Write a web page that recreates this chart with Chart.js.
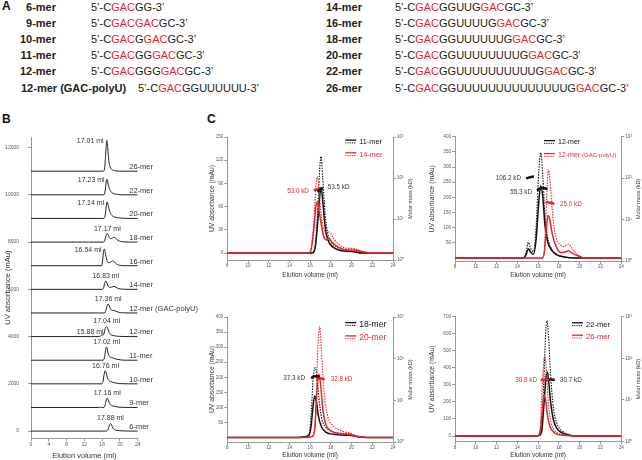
<!DOCTYPE html>
<html>
<head>
<meta charset="utf-8">
<script src="https://cdn.jsdelivr.net/npm/chart.js@4.4.0/dist/chart.umd.min.js"></script>
<style>
  body { margin: 0; background: #fff; }
  #wrap { position: relative; width: 642px; height: 460px; overflow: hidden; font-family: "Liberation Sans", Arial, sans-serif; }
  .t { position: absolute; white-space: nowrap; font-size: 11px; line-height: 12px; color: #222; }
  .b { font-weight: bold; }
  .red { color: #e8262b; }
  .letter { position: absolute; font-weight: bold; font-size: 12px; line-height: 12px; color: #111; }
  canvas { position: absolute; }
</style>
</head>
<body>
<div id="wrap">
  <div class="letter" style="left:2px;top:0px">A</div>
  <div class="letter" style="left:2px;top:113px">B</div>
  <div class="letter" style="left:207px;top:113px">C</div>
  <canvas id="chartB"></canvas>
  <canvas id="chartC1"></canvas>
  <canvas id="chartC2"></canvas>
  <canvas id="chartC3"></canvas>
  <canvas id="chartC4"></canvas>
</div>
<script>
// ---- A: oligo sequences
const leftNames = ["6-mer", "9-mer", "10-mer", "11-mer", "12-mer", "12-mer (GAC-polyU)"];
const leftSeqs = ["5’-CGACGG-3’", "5’-CGACGACGC-3’", "5’-CGACGGACGC-3’", "5’-CGACGGGACGC-3’",
  "5’-CGACGGGGACGC-3’", "5’-CGACGGUUUUUU-3’"];
const rightNames = ["14-mer", "16-mer", "18-mer", "20-mer", "22-mer", "26-mer"];
const rightSeqs = ["5’-CGACGGUUGGACGC-3’", "5’-CGACGGUUUUGGACGC-3’", "5’-CGACGGUUUUUUGGACGC-3’",
  "5’-CGACGGUUUUUUUUGGACGC-3’", "5’-CGACGGUUUUUUUUUUGGACGC-3’", "5’-CGACGGUUUUUUUUUUUUUUGGACGC-3’"];

// ---- B: stacked traces, elution volume (ml) vs UV absorbance (mAu) above each baseline
const bNames = ["6-mer", "9-mer", "10-mer", "11-mer", "12-mer", "12-mer (GAC-polyU)",
  "14-mer", "16-mer", "18-mer", "20-mer", "22-mer", "26-mer"];
const bBaselines = [0, 1000, 2000, 3000, 4000, 5000, 6000, 7000, 8000, 9000, 10000, 11000];
const bPeakMl = [17.88, 17.16, 16.76, 17.02, 17.04, 17.36, 16.83, 16.54, 17.17, 17.14, 17.23, 17.01];
const bExtraPeakMl = 15.88; // minor peak of 12-mer
const bYTicks = [0, 2000, 4000, 6000, 8000, 10000, 12000];

const b6 = [[0,0],[17.0,0],[17.3,60],[17.6,230],[17.85,320],[18.1,270],[18.4,140],[18.8,60],[19.4,30],[20.5,10],[22,0],[24,0]];
const b9 = [[0,0],[15.4,0],[15.6,20],[15.8,0],[16.4,0],[16.7,120],[16.95,340],[17.15,390],[17.4,300],[17.7,160],[18.1,90],[18.7,50],[19.5,20],[20.5,5],[22,0],[24,0]];
const b10 = [[0,0],[15.9,0],[16.2,100],[16.45,400],[16.7,560],[16.9,480],[17.2,250],[17.5,150],[17.9,100],[18.5,60],[19.3,25],[20.5,5],[22,0],[24,0]];
const b11 = [[0,0],[16.2,0],[16.5,100],[16.75,400],[16.95,560],[17.15,480],[17.4,250],[17.7,150],[18.1,110],[18.6,80],[19.3,40],[20.3,10],[22,0],[24,0]];
const b12 = [[0,0],[15.4,0],[15.7,30],[15.95,80],[16.2,60],[16.45,150],[16.75,380],[17.0,430],[17.25,350],[17.55,180],[17.9,90],[18.4,50],[19.2,20],[20.5,5],[22,0],[24,0]];
const b12u = [[0,0],[16.6,0],[16.85,100],[17.15,330],[17.35,380],[17.6,300],[17.9,160],[18.3,110],[18.7,100],[19.1,70],[19.7,30],[20.6,8],[22,0],[24,0]];
const b14 = [[0,0],[16.1,0],[16.35,80],[16.6,280],[16.85,350],[17.1,250],[17.4,120],[17.8,80],[18.3,110],[18.7,125],[19.1,90],[19.6,40],[20.5,10],[22,0],[24,0]];
const b16 = [[0,0],[15.9,0],[16.1,200],[16.35,650],[16.5,700],[16.7,550],[17,280],[17.4,130],[17.8,140],[18.3,200],[18.6,190],[19,110],[19.5,40],[20.3,10],[21.5,0],[24,0]];
const b18 = [[0,0],[16.3,0],[16.6,80],[16.9,280],[17.15,360],[17.4,280],[17.7,170],[18.1,150],[18.6,200],[18.9,190],[19.3,110],[19.9,40],[20.8,10],[22,0],[24,0]];
const b20 = [[0,0],[16.4,0],[16.7,150],[16.95,550],[17.15,700],[17.35,560],[17.7,300],[18.1,150],[18.7,70],[19.5,30],[20.5,10],[22,0],[24,0]];
const b22 = [[0,0],[16.4,0],[16.7,200],[16.95,600],[17.1,660],[17.3,500],[17.6,280],[18,130],[18.6,50],[19.5,15],[20.5,0],[24,0]];
const b26 = [[0,0],[16.3,0],[16.6,200],[16.85,900],[17.05,1300],[17.25,1000],[17.5,450],[17.8,180],[18.3,60],[19,20],[20,0],[24,0]];
const bTraces = [b6, b9, b10, b11, b12, b12u, b14, b16, b18, b20, b22, b26];

// ---- C: UV (solid), light scattering (dotted), molar mass (thick, right log axis)
const c1Uv11 = [[8,0],[16.2,0],[16.5,8],[16.7,35],[16.9,70],[17.05,85],[17.2,70],[17.4,40],[17.6,22],[17.9,12],[18.4,6],[19,3],[20,2],[21,0],[24,0]];
const c1Ls11 = [[8,0],[16.2,0],[16.5,10],[16.75,60],[16.95,115],[17.05,125],[17.2,100],[17.45,50],[17.7,25],[18,15],[18.5,8],[19.5,4],[20.5,2],[21.5,0],[24,0]];
const c1Uv14 = [[8,0],[15.9,0],[16.1,5],[16.35,30],[16.55,60],[16.7,66],[16.85,55],[17.1,35],[17.3,22],[17.55,17],[17.8,19],[18.1,14],[18.7,8],[19.5,4],[20.2,4],[21,2],[22,0],[24,0]];
const c1Ls14 = [[8,0],[15.9,0],[16.1,6],[16.35,40],[16.55,85],[16.7,99],[16.85,80],[17.1,45],[17.35,30],[17.6,27],[17.85,27],[18.2,20],[18.7,12],[19.5,6],[20.2,6],[21,2],[22,0],[24,0]];
const c1Mm11 = [[16.7,46],[16.9,50],[17.05,54],[17.25,56]];
const c1Mm14 = [[16.35,50],[16.55,52],[16.75,54],[16.95,55]];

const c2Uv12 = [[8,0],[14.6,0],[14.85,12],[15.05,30],[15.3,18],[15.55,12],[15.8,60],[16.05,180],[16.25,238],[16.45,200],[16.65,110],[16.9,55],[17.3,25],[17.8,10],[18.5,3],[19.5,0],[24,0]];
const c2Ls12 = [[8,0],[14.6,0],[14.85,20],[15.05,52],[15.3,30],[15.55,20],[15.8,100],[16.05,280],[16.25,347],[16.45,270],[16.65,140],[16.9,70],[17.3,30],[17.8,12],[18.5,4],[19.5,0],[24,0]];
const c2UvPolyU = [[8,0],[16.4,0],[16.6,20],[16.8,100],[16.95,140],[17.1,130],[17.35,80],[17.7,40],[18.2,18],[18.6,20],[18.9,24],[19.3,15],[20,5],[20.5,0],[24,0]];
const c2LsPolyU = [[8,0],[16.4,0],[16.6,30],[16.8,180],[16.98,292],[17.15,250],[17.4,140],[17.7,70],[18.1,45],[18.5,38],[18.9,46],[19.3,30],[19.8,10],[20.5,0],[24,0]];
const c2Mm12a = [[14.85,98],[15.1,103],[15.35,107],[15.6,110]];
const c2Mm12b = [[15.9,50],[16.1,55],[16.3,58],[16.5,58],[16.7,56],[16.9,55]];
const c2MmPolyU = [[16.7,26],[16.9,26],[17.1,25.5],[17.3,25],[17.55,24]];

const c3Uv18 = [[8,0],[14.5,0],[15.5,2],[15.9,8],[16.1,40],[16.3,110],[16.45,138],[16.6,120],[16.8,70],[17.1,35],[17.5,18],[18,12],[19,8],[19.8,7],[20.5,3],[21.5,0],[24,0]];
const c3Ls18 = [[8,0],[14.5,0],[15.5,3],[15.9,12],[16.1,80],[16.3,200],[16.5,232],[16.65,205],[16.85,130],[17.1,65],[17.5,35],[18,22],[19,14],[19.8,12],[20.5,5],[21.5,0],[24,0]];
const c3Uv20 = [[8,0],[15.5,0],[16.2,3],[16.45,30],[16.65,150],[16.82,210],[17.0,180],[17.2,100],[17.5,45],[18,22],[18.8,12],[19.8,10],[20.5,4],[21.5,0],[24,0]];
const c3Ls20 = [[8,0],[15.5,0],[16.2,4],[16.5,60],[16.75,300],[16.92,368],[17.1,280],[17.35,150],[17.7,70],[18.2,40],[19,22],[19.8,15],[20.5,5],[21.5,0],[24,0]];
const c3Mm18 = [[16.1,34],[16.3,37],[16.5,38],[16.7,38],[16.9,37]];
const c3Mm20 = [[16.6,32],[16.8,33],[17.0,33.5],[17.2,33],[17.4,32]];

const c4Uv22 = [[8,0],[15.5,0],[16.1,3],[16.35,30],[16.55,180],[16.75,340],[16.88,375],[17.0,330],[17.2,200],[17.45,100],[17.8,45],[18.3,18],[19,5],[20,0],[24,0]];
const c4Ls22 = [[8,0],[15.5,0],[16.1,5],[16.35,60],[16.55,330],[16.72,600],[16.85,678],[16.98,600],[17.2,360],[17.45,170],[17.8,75],[18.3,30],[19,8],[20,0],[24,0]];
const c4Uv26 = [[8,0],[15,0],[16,3],[16.2,25],[16.4,150],[16.57,241],[16.72,210],[16.9,120],[17.15,55],[17.5,22],[18,8],[19,2],[20,0],[24,0]];
const c4Ls26 = [[8,0],[15,0],[16,5],[16.2,50],[16.4,300],[16.62,465],[16.78,400],[16.95,220],[17.2,90],[17.55,35],[18,14],[19,3],[20,0],[24,0]];
const c4Mm22 = [[16.75,31],[17.0,31],[17.2,30.8],[17.4,30.7],[17.6,30.5]];
const c4Mm26 = [[16.25,30],[16.45,30.5],[16.65,31],[16.85,31],[17.0,30.5]];

const RED = "#e8262b", BLK = "#111";
const FONT = '"Liberation Sans", Arial, sans-serif';
const SUP = ["⁰", "¹", "²", "³"];

// panel A text
(function () {
  const wrap = document.getElementById("wrap");
  const colour = s => s.replace(/GAC/g, '<span class="red">GAC</span>');
  function put(html, css, cls) {
    const d = document.createElement("div");
    d.className = "t " + (cls || "");
    d.innerHTML = html;
    Object.assign(d.style, css);
    wrap.appendChild(d);
  }
  leftNames.forEach((n, i) => {
    const top = (1 + i * 16.1) + "px";
    if (n.length > 8) {
      put(n, {left: "21px", top}, "b");
      put(colour(leftSeqs[i]), {left: "138px", top});
    } else {
      put(n, {right: (642 - 56) + "px", top}, "b");
      put(colour(leftSeqs[i]), {left: "91px", top});
    }
  });
  rightNames.forEach((n, i) => {
    const top = (1 + i * 16.1) + "px";
    put(n, {right: (642 - 362) + "px", top}, "b");
    put(colour(rightSeqs[i]), {left: "395px", top});
  });
})();

// legend with a solid + dotted swatch per sample
const pairLegend = {
  id: "pairLegend",
  afterDraw(chart, args, o) {
    if (!o.items) return;
    const ctx = chart.ctx, ca = chart.chartArea;
    ctx.save();
    o.items.forEach((it, i) => {
      const x = ca.left + o.dx, y = ca.top + o.dy + i * o.gap;
      ctx.strokeStyle = it.color;
      ctx.lineWidth = 1.3;
      ctx.setLineDash([]);
      ctx.beginPath(); ctx.moveTo(x, y - 1.4); ctx.lineTo(x + 11, y - 1.4); ctx.stroke();
      ctx.lineWidth = 1;
      ctx.setLineDash([1.2, 1]);
      ctx.beginPath(); ctx.moveTo(x, y + 1.4); ctx.lineTo(x + 11, y + 1.4); ctx.stroke();
      ctx.setLineDash([]);
      ctx.fillStyle = it.color;
      ctx.textBaseline = "middle";
      ctx.textAlign = "left";
      ctx.font = o.size + "px " + FONT;
      ctx.fillText(it.text, x + 14, y + 0.5);
      if (it.extra) {
        const w = ctx.measureText(it.text + " ").width;
        ctx.font = (o.size - 1) + "px " + FONT;
        ctx.fillText(it.extra, x + 14 + w, y + 0.5);
      }
    });
    ctx.restore();
  }
};

// molar mass labels + right axis title (reads upward like the left one)
const cNotes = {
  id: "cNotes",
  afterDraw(chart, args, o) {
    if (!o.notes) return;
    const {ctx, chartArea: ca, scales} = chart;
    ctx.save();
    ctx.font = "6.3px " + FONT;
    ctx.textBaseline = "middle";
    o.notes.forEach(n => {
      ctx.fillStyle = n.color;
      ctx.textAlign = n.align;
      ctx.fillText(n.text, scales.x.getPixelForValue(n.x), scales.y2.getPixelForValue(n.y));
    });
    ctx.translate(ca.right + 17, (ca.top + ca.bottom) / 2);
    ctx.rotate(-Math.PI / 2);
    ctx.fillStyle = "#333";
    ctx.font = "5.5px " + FONT;
    ctx.textAlign = "center";
    ctx.fillText("Molar mass (kD)", 0, 0);
    ctx.restore();
  }
};

// trace names and peak volumes for panel B
const bLabels = {
  id: "bLabels",
  afterDatasetsDraw(chart) {
    const {ctx, scales: {x, y}} = chart;
    const leftSide = ["16-mer", "20-mer", "22-mer", "26-mer"];
    const peakTop = (tr, ml) => Math.max(...tr.filter(p => Math.abs(p[0] - ml) <= 0.35).map(p => p[1]));
    ctx.save();
    ctx.fillStyle = "#333";
    bNames.forEach((n, i) => {
      ctx.font = "7.5px " + FONT;
      ctx.textAlign = "left";
      ctx.textBaseline = "bottom";
      ctx.fillText(n, x.getPixelForValue(22.1), y.getPixelForValue(bBaselines[i]) - 0.5);

      ctx.font = "7px " + FONT;
      ctx.textBaseline = "middle";
      const ml = bPeakMl[i];
      const top = y.getPixelForValue(bBaselines[i] + peakTop(bTraces[i], ml));
      const txt = ml.toFixed(2) + " ml";
      if (leftSide.includes(n)) {
        ctx.textAlign = "right";
        ctx.fillText(txt, x.getPixelForValue(ml) - 3, top + 1);
      } else {
        ctx.textAlign = "center";
        ctx.fillText(txt, x.getPixelForValue(ml), top - 5);
      }
    });
    const i12 = bNames.indexOf("12-mer");
    const top12 = y.getPixelForValue(bBaselines[i12] + peakTop(b12, bExtraPeakMl));
    ctx.textAlign = "right";
    ctx.fillText(bExtraPeakMl.toFixed(2) + " ml", x.getPixelForValue(bExtraPeakMl) + 2, top12 - 3);
    ctx.restore();
  }
};

Chart.register(pairLegend, cNotes);

function place(id, b) {
  const cv = document.getElementById(id);
  cv.width = b.w; cv.height = b.h;
  cv.style.left = b.left + "px";
  cv.style.top = b.top + "px";
  return cv;
}

const axisGrey = "#999", tickGrey = "#555";

// ---- panel B
(function () {
  const b = {left: 0, top: 125, w: 210, h: 335};
  const cv = place("chartB", b);
  new Chart(cv, {
    type: "line",
    data: {
      datasets: bTraces.map((tr, i) => ({
        data: tr.map(p => [p[0], p[1] + bBaselines[i]]),
        borderColor: "#222", borderWidth: 1, pointRadius: 0,
        cubicInterpolationMode: "monotone"
      }))
    },
    plugins: [bLabels],
    options: {
      responsive: false, animation: false, events: [],
      layout: {padding: {top: 8, right: 72.3, left: 0, bottom: 0}},
      plugins: {legend: {display: false}, tooltip: {enabled: false}},
      scales: {
        x: {
          type: "linear", min: 0, max: 24,
          ticks: {stepSize: 4, autoSkip: false, maxRotation: 0, color: tickGrey, font: {family: FONT, size: 5}, padding: 0},
          grid: {drawOnChartArea: false, tickLength: 3, color: axisGrey},
          border: {color: axisGrey},
          title: {display: true, text: "Elution volume (ml)", color: "#333", font: {family: FONT, size: 7.5}, padding: {top: 0, bottom: 0}},
          afterFit(s) { s.height = 21.7; }
        },
        y: {
          min: -305, max: 12447,
          ticks: {color: tickGrey, font: {family: FONT, size: 5}, padding: 9, callback: v => String(v)},
          afterBuildTicks(s) { s.ticks = bYTicks.map(v => ({value: v})); },
          grid: {drawOnChartArea: false, tickLength: 3, color: axisGrey},
          border: {color: axisGrey},
          title: {display: true, text: "UV absorbance (mAu)", color: "#333", font: {family: FONT, size: 7.5}, padding: {top: 3, bottom: 0}},
          afterFit(s) { s.width = 31; }
        }
      }
    }
  });
})();

// ---- panel C
function makeC(id, b, yr, series, legend, notes) {
  const cv = place(id, b);
  const tickFont = {family: FONT, size: 4.6};
  new Chart(cv, {
    type: "line",
    data: {
      datasets: series.map(s => ({
        data: s.data,
        yAxisID: s.kind === "mm" ? "y2" : "y",
        borderColor: s.color,
        borderWidth: s.kind === "mm" ? 2.5 : (s.kind === "ls" ? 1.1 : 1.5),
        borderDash: s.kind === "ls" ? [1.5, 1.2] : [],
        pointRadius: 0,
        cubicInterpolationMode: "monotone"
      }))
    },
    options: {
      responsive: false, animation: false, events: [],
      layout: {padding: {top: b.pt, right: 0, left: 0, bottom: 0}},
      plugins: {legend: {display: false}, tooltip: {enabled: false}, pairLegend: legend, cNotes: {notes}},
      scales: {
        x: {
          type: "linear", min: 8, max: 24,
          ticks: {stepSize: 2, autoSkip: false, maxRotation: 0, color: tickGrey, font: tickFont, padding: 0},
          grid: {drawOnChartArea: false, tickLength: 3, color: axisGrey},
          border: {color: axisGrey},
          title: {display: true, text: "Elution volume (ml)", color: "#333", font: {family: FONT, size: 6.5}, padding: {top: 0, bottom: 1}},
          afterFit(s) { s.height = b.xh; }
        },
        y: {
          position: "left", min: yr[0], max: yr[1],
          ticks: {stepSize: yr[2], color: tickGrey, font: tickFont, padding: 1},
          afterBuildTicks(s) { s.ticks = s.ticks.filter(t => t.value >= 0); },
          grid: {drawOnChartArea: false, tickLength: 3, color: axisGrey},
          border: {color: axisGrey},
          title: {display: true, text: "UV absorbance (mAu)", color: "#333", font: {family: FONT, size: 6.8}, padding: {top: 3, bottom: 0}},
          afterFit(s) { s.width = b.lw; }
        },
        y2: {
          type: "logarithmic", position: "right", min: 1, max: 1000,
          ticks: {color: tickGrey, font: tickFont, padding: 1, callback: v => "10" + SUP[Math.round(Math.log10(v))]},
          afterBuildTicks(s) { s.ticks = [1, 10, 100, 1000].map(v => ({value: v})); },
          grid: {drawOnChartArea: false, tickLength: 3, color: axisGrey},
          border: {color: axisGrey},
          afterFit(s) { s.width = b.rw; }
        }
      }
    }
  });
}

makeC("chartC1", {left: 205, top: 127, w: 215, h: 153, lw: 22.3, rw: 27, xh: 20, pt: 10}, [-9, 150, 30],
  [{data: c1Mm11, color: BLK, kind: "mm"}, {data: c1Mm14, color: RED, kind: "mm"},
   {data: c1Uv14, color: RED, kind: "uv"}, {data: c1Ls14, color: RED, kind: "ls"},
   {data: c1Uv11, color: BLK, kind: "uv"}, {data: c1Ls11, color: BLK, kind: "ls"}],
  {dx: 118, dy: 4.5, gap: 12.7, size: 7.3, items: [{text: "11-mer", color: BLK}, {text: "14-mer", color: RED}]},
  [{text: "53.5 kD", x: 17.7, y: 61, align: "left", color: "#333"},
   {text: "53.0 kD", x: 15.88, y: 48, align: "right", color: RED}]);

makeC("chartC2", {left: 425, top: 127, w: 217, h: 153, lw: 30, rw: 20.7, xh: 19, pt: 9.7}, [-10, 400, 50],
  [{data: c2Mm12a, color: BLK, kind: "mm"}, {data: c2Mm12b, color: BLK, kind: "mm"}, {data: c2MmPolyU, color: RED, kind: "mm"},
   {data: c2UvPolyU, color: RED, kind: "uv"}, {data: c2LsPolyU, color: RED, kind: "ls"},
   {data: c2Uv12, color: BLK, kind: "uv"}, {data: c2Ls12, color: BLK, kind: "ls"}],
  {dx: 89, dy: 5.3, gap: 13, size: 7, items: [{text: "12-mer", color: BLK}, {text: "12-mer", extra: "(GAC-polyU)", color: RED}]},
  [{text: "106.2 kD", x: 14.35, y: 99, align: "right", color: "#333"},
   {text: "55.3 kD", x: 15.41, y: 46, align: "right", color: "#333"},
   {text: "25.0 kD", x: 18.1, y: 23.4, align: "left", color: RED}]);

makeC("chartC3", {left: 205, top: 307, w: 215, h: 153, lw: 22.3, rw: 27, xh: 18, pt: 10}, [-15, 400, 50],
  [{data: c3Mm18, color: BLK, kind: "mm"}, {data: c3Mm20, color: RED, kind: "mm"},
   {data: c3Uv20, color: RED, kind: "uv"}, {data: c3Ls20, color: RED, kind: "ls"},
   {data: c3Uv18, color: BLK, kind: "uv"}, {data: c3Ls18, color: BLK, kind: "ls"}],
  {dx: 118, dy: 7, gap: 13.3, size: 8.5, items: [{text: "18-mer", color: BLK}, {text: "20-mer", color: RED}]},
  [{text: "37.3 kD", x: 15.5, y: 33, align: "right", color: "#333"},
   {text: "32.8 kD", x: 17.98, y: 31.2, align: "left", color: RED}]);

makeC("chartC4", {left: 425, top: 307, w: 217, h: 153, lw: 30, rw: 20.7, xh: 18.5, pt: 9.7}, [-32, 700, 100],
  [{data: c4Mm26, color: RED, kind: "mm"}, {data: c4Mm22, color: BLK, kind: "mm"},
   {data: c4Uv26, color: RED, kind: "uv"}, {data: c4Ls26, color: RED, kind: "ls"},
   {data: c4Uv22, color: BLK, kind: "uv"}, {data: c4Ls22, color: BLK, kind: "ls"}],
  {dx: 117, dy: 7.5, gap: 12.4, size: 7.6, items: [{text: "22-mer", color: BLK}, {text: "26-mer", color: RED}]},
  [{text: "30.8 kD", x: 15.89, y: 28.9, align: "right", color: RED},
   {text: "30.7 kD", x: 18.1, y: 28.9, align: "left", color: "#333"}]);
</script>
</body>
</html>
